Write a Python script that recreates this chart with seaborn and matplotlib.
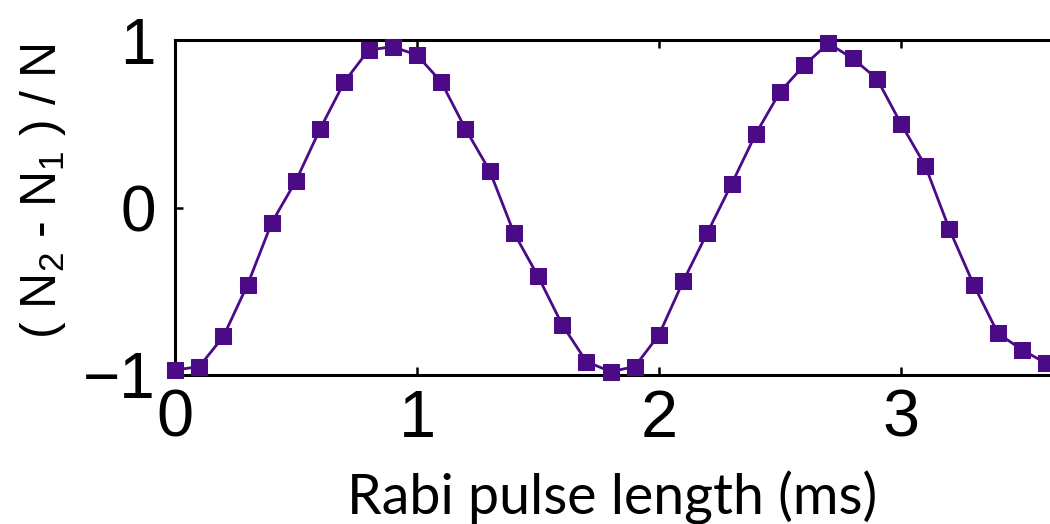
import pandas as pd
import seaborn as sns
import matplotlib.pyplot as plt

# Rabi oscillation, population difference vs pulse length
pulse_ms = [0.0, 0.1, 0.2, 0.3, 0.4, 0.5, 0.6, 0.7, 0.8, 0.9,
            1.0, 1.1, 1.2, 1.3, 1.4, 1.5, 1.6, 1.7, 1.8, 1.9,
            2.0, 2.1, 2.2, 2.3, 2.4, 2.5, 2.6, 2.7, 2.8, 2.9,
            3.0, 3.1, 3.2, 3.3, 3.4, 3.5, 3.6]
pop_diff = [-0.97, -0.95, -0.77, -0.46, -0.09, 0.16, 0.47, 0.75, 0.94, 0.96,
            0.91, 0.75, 0.47, 0.22, -0.15, -0.41, -0.70, -0.92, -0.98, -0.95,
            -0.76, -0.44, -0.15, 0.14, 0.44, 0.69, 0.85, 0.98, 0.89, 0.77,
            0.50, 0.25, -0.13, -0.46, -0.75, -0.85, -0.93]
x_ticks = [0, 1, 2, 3]
y_ticks = [-1, 0, 1]

purple = '#4b0a86'

sns.set_style('ticks')
plt.rcParams['font.family'] = ['Liberation Sans', 'DejaVu Sans']
plt.rcParams['mathtext.default'] = 'regular'
for key in ['text.color', 'axes.labelcolor', 'xtick.color', 'ytick.color', 'axes.edgecolor']:
    plt.rcParams[key] = 'black'

df = pd.DataFrame({'pulse': pulse_ms, 'diff': pop_diff})

fig = plt.figure(figsize=(10.5, 5.24), dpi=100)
ax = fig.add_axes([175 / 1050, 149 / 524, 875 / 1050, 335 / 524])

sns.lineplot(data=df, x='pulse', y='diff', ax=ax, color=purple, lw=2.0,
             marker='s', markersize=11, markeredgecolor=purple,
             clip_on=False, zorder=3)

ax.set_xlim(0, 875 / 242)
ax.set_ylim(-1, 1)
ax.set_xticks(x_ticks)
ax.set_yticks(y_ticks)

for side in ['left', 'top', 'bottom']:
    ax.spines[side].set_linewidth(2.2)
ax.spines['right'].set_visible(False)

ax.tick_params(axis='x', top=True, direction='in', length=6, width=1.8,
               labelsize=48, pad=10)
ax.tick_params(axis='y', direction='in', length=6, width=1.8,
               labelsize=46, pad=14)

ax.set_ylabel(r'( N$_2$ - N$_1$ ) / N', fontsize=36)
ax.yaxis.set_label_coords(-0.122, 0.55)

ax.set_xlabel('Rabi pulse length (ms)', fontsize=40, family='Lato')
ax.xaxis.set_label_coords(0.5, -0.285)

fig.savefig('out.png', dpi=100)
